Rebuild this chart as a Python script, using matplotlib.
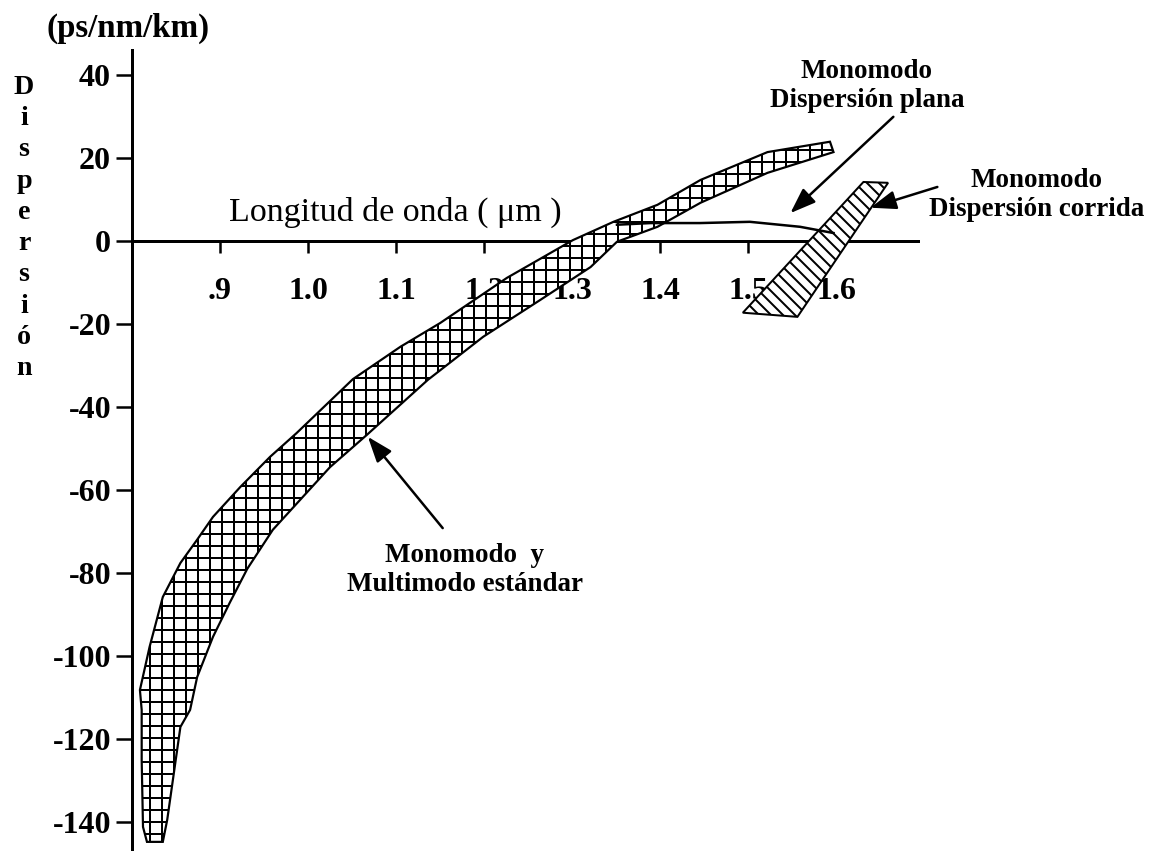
import matplotlib
matplotlib.use("Agg")
import matplotlib.pyplot as plt

plt.rcParams["font.family"] = ["Liberation Serif", "DejaVu Serif"]
plt.rcParams["hatch.linewidth"] = 2.0

# Monomodo y multimodo estandar (band edges), wavelength in um, dispersion in ps/nm/km
std_upper_x = [0.817, 0.8125, 0.811, 0.811, 0.809, 0.820, 0.835, 0.855, 0.874, 0.892,
               0.923, 0.957, 0.987, 1.051, 1.105, 1.150, 1.226, 1.301, 1.347, 1.397,
               1.446, 1.522, 1.593]
std_upper_y = [-144.8, -141.2, -125.1, -113.0, -108.2, -97.8, -85.8, -77.6, -72.0, -66.5,
               -59.3, -52.0, -46.3, -33.3, -25.5, -19.8, -8.9, 0.2, 4.6, 8.7,
               14.7, 21.4, 23.9]
std_lower_x = [0.835, 0.840, 0.855, 0.866, 0.874, 0.892, 0.911, 0.931, 0.960, 0.994,
               1.025, 1.067, 1.136, 1.199, 1.264, 1.321, 1.351, 1.397, 1.446, 1.522,
               1.597]
std_lower_y = [-144.8, -139.5, -117.1, -113.0, -105.1, -95.4, -87.2, -79.0, -69.6, -61.7,
               -54.5, -46.7, -33.5, -23.1, -14.2, -6.3, -0.2, 3.4, 9.2, 16.4,
               21.4]

# Monomodo dispersion corrida (strip corners)
shifted_x = [1.494, 1.631, 1.659, 1.556]
shifted_y = [-17.3, 14.2, 14.0, -18.3]

# Monomodo dispersion plana
flat_x = [1.351, 1.389, 1.445, 1.502, 1.559, 1.597]
flat_y = [3.9, 4.3, 4.3, 4.6, 3.4, 1.9]

x_ticks = [0.9, 1.0, 1.1, 1.2, 1.3, 1.4, 1.5, 1.6]
x_labels = [".9", "1.0", "1.1", "1.2", "1.3", "1.4", "1.5", "1.6"]
y_ticks = [40, 20, 0, -20, -40, -60, -80, -100, -120, -140]

fig = plt.figure(figsize=(1153 / 72, 851 / 72), dpi=72)
ax = fig.add_axes([132 / 1153, 0.0, (918 - 132) / 1153, 801 / 851])
ax.set_xlim(0.8, 1.693)
ax.set_ylim(-147, 46)

band_x = std_upper_x + std_lower_x[::-1]
band_y = std_upper_y + std_lower_y[::-1]
ax.fill(band_x, band_y, facecolor="white", edgecolor="black", hatch="+", lw=2.2, zorder=3)
ax.fill(shifted_x, shifted_y, facecolor="white", edgecolor="black", hatch="\\\\", lw=2.0, zorder=3)
ax.plot(flat_x, flat_y, color="black", lw=2.5, zorder=3)

for s in ["top", "right"]:
    ax.spines[s].set_visible(False)
ax.spines["bottom"].set_position(("data", 0))
ax.spines["left"].set_linewidth(3)
ax.spines["bottom"].set_linewidth(3)

ax.set_xticks(x_ticks)
ax.set_xticklabels(x_labels)
ax.set_yticks(y_ticks)
ax.set_yticklabels([str(v) for v in y_ticks])
ax.tick_params(axis="x", direction="out", length=12, width=2.5, pad=24, labelsize=32)
ax.tick_params(axis="y", direction="out", length=16, width=2.5, pad=5, labelsize=32)
for lab in ax.get_xticklabels() + ax.get_yticklabels():
    lab.set_fontweight("bold")

ax.text(1.099, 6.8, "Longitud de onda ( μm )", fontsize=34, ha="center", va="center")

note = dict(fontsize=27, fontweight="bold", ha="center", va="center", linespacing=1.2)
ax.text(1.635, 37.3, "Monomodo\nDispersión plana", **note)
ax.text(1.828, 11.1, "Monomodo\nDispersión corrida", **note)
ax.text(1.178, -79.3, "Monomodo  y\nMultimodo estándar", **note)

arrow = dict(arrowstyle="-|>,head_length=0.6,head_width=0.22", color="black", lw=2.5,
             mutation_scale=36, shrinkA=0, shrinkB=0)
ax.annotate("", xy=(1.548, 6.7), xytext=(1.665, 29.9), arrowprops=arrow)
ax.annotate("", xy=(1.639, 8.0), xytext=(1.715, 13.0), arrowprops=arrow)
ax.annotate("", xy=(1.068, -47.2), xytext=(1.153, -69.2), arrowprops=arrow)

fig.text(128 / 1153, 1 - 28 / 851, "(ps/nm/km)", fontsize=33, fontweight="bold",
         ha="center", va="center")
fig.text(24 / 1153, 1 - 228 / 851, "\n".join("Dispersión"), fontsize=28, fontweight="bold",
         ha="center", va="center", linespacing=1.33)

fig.savefig("out.png", dpi=72)
